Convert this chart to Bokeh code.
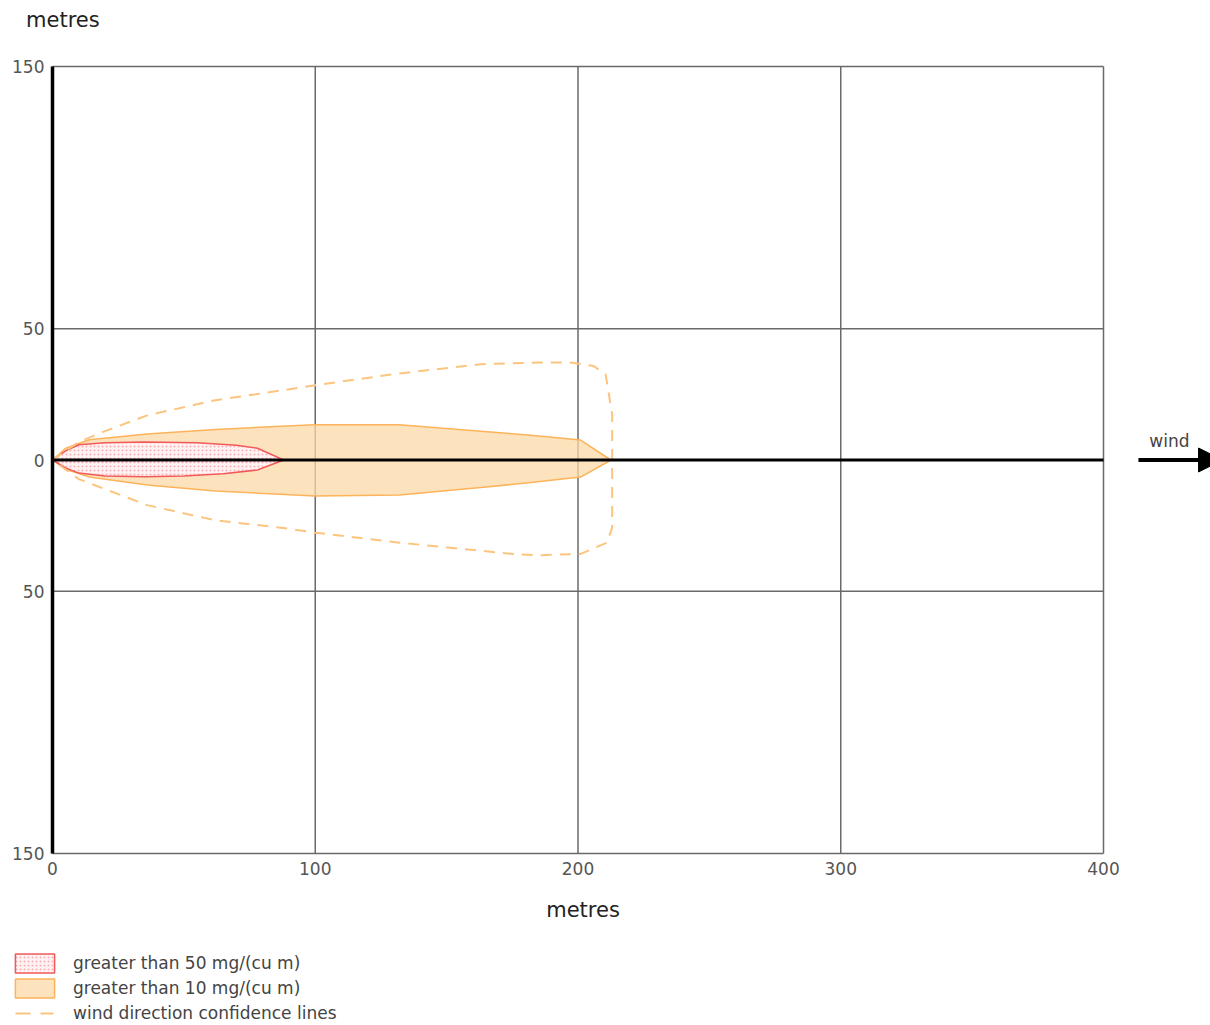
from bokeh.plotting import figure
from bokeh.models import Range1d, FixedTicker, Label, Arrow, NormalHead, Legend, LegendItem
from bokeh.layouts import column
from bokeh.embed import file_html
from bokeh.resources import INLINE

# ---------------- data ----------------
x_ticks = [0, 100, 200, 300, 400]
y_ticks = [150, 50, 0, -50, -150]
y_tick_labels = ["150", "50", "0", "50", "150"]
h_grid = [150, 50, -50, -150]

# zone greater than 50 mg/(cu m)
high_x = [0, 5, 10, 20, 35, 55, 70, 78, 88, 78, 65, 50, 35, 20, 10, 5]
high_y = [0, 3.5, 5.8, 6.6, 6.9, 6.6, 5.6, 4.5, 0, -3.8, -5.2, -6.1, -6.4, -6.1, -5.0, -3.0]

# zone greater than 10 mg/(cu m)
low_x = [0, 5, 14, 36, 62, 87, 100, 132, 163, 182, 201, 212.5, 201, 182, 163, 132, 100, 62, 36, 14, 5]
low_y = [0, 4.5, 7.7, 9.9, 11.6, 12.9, 13.4, 13.4, 11.0, 9.4, 7.6, 0, -6.5, -8.6, -10.5, -13.3, -13.7, -11.8, -9.5, -6.5, -3.5]

# wind direction confidence lines
conf_x = [0, 10, 20, 36, 62, 87, 100, 132, 163, 185, 198, 206, 210.5, 213, 213, 211, 201, 185, 175, 132, 100, 87, 62, 36, 10, 0]
conf_y = [0, 6.9, 11.0, 17.0, 22.8, 26.5, 28.5, 33.0, 36.5, 37.2, 37.1, 35.8, 32.7, 17.5, -25.8, -31.5, -35.8, -36.3, -35.8, -31.5, -27.7, -25.8, -23.0, -17.2, -7.3, 0]

legend_labels = ["greater than 50 mg/(cu m)", "greater than 10 mg/(cu m)", "wind direction confidence lines"]
axis_title = "metres"

FONT = "DejaVu Sans"
W = 1210
OFF = -1500  # strip coordinates are shifted so that the chart's data lie outside their view

# styles
HIGH = dict(fill_color="#fff2f3", line_color="#f05a5a", line_width=1.5,
            hatch_pattern="dot", hatch_color="#f7b0b6", hatch_scale=4, hatch_weight=1)
LOW = dict(fill_color="#fcdaa7", fill_alpha=0.75, line_color="#fdb35a", line_width=1.5)
CONF = dict(line_color="#fcc57f", line_width=2)


def strip(height):
    f = figure(width=W, height=height, output_backend="svg", toolbar_location=None,
               x_range=Range1d(OFF, OFF + W), y_range=Range1d(0, height),
               x_axis_location=None, y_axis_location=None, min_border=0, frame_align=False)
    f.outline_line_color = None
    f.xgrid.visible = False
    f.ygrid.visible = False
    return f


# ---------------- top strip: y axis title ----------------
top = strip(40)
top.add_layout(Label(x=OFF + 62.4, y=21.0, text=axis_title, text_font=FONT, text_font_size="21px",
                     text_color="#222222", text_align="center", text_baseline="alphabetic"))

# ---------------- main chart ----------------
p = figure(width=W, height=845, output_backend="svg", toolbar_location=None,
           x_range=Range1d(-1.522, 440.72), y_range=Range1d(-150.762, 150.762),
           min_border_left=48, min_border_right=0, min_border_top=24, min_border_bottom=30,
           frame_align=False)
p.outline_line_color = None
p.xgrid.visible = False
p.ygrid.visible = False

xa = p.xaxis[0]
xa.ticker = FixedTicker(ticks=x_ticks)
xa.axis_line_color = None
xa.major_tick_line_color = None
xa.minor_tick_line_color = None
xa.major_label_standoff = 0
xa.major_label_text_font = FONT
xa.major_label_text_font_size = "17px"
xa.major_label_text_color = "#555555"

ya = p.yaxis[0]
ya.ticker = FixedTicker(ticks=y_ticks)
ya.major_label_overrides = {t: l for t, l in zip(y_ticks, y_tick_labels)}
ya.axis_line_color = None
ya.major_tick_line_color = None
ya.minor_tick_line_color = None
ya.major_label_standoff = -2
ya.major_label_text_font = FONT
ya.major_label_text_font_size = "17px"
ya.major_label_text_color = "#555555"

grid_col = "#6a6a6a"
p.segment(x0=x_ticks, y0=[-150] * len(x_ticks), x1=x_ticks, y1=[150] * len(x_ticks),
          line_color=grid_col, line_width=1.5)
p.segment(x0=[0] * len(h_grid), y0=h_grid, x1=[400] * len(h_grid), y1=h_grid,
          line_color=grid_col, line_width=1.5)

p.patch(low_x, low_y, **LOW)
p.patch(high_x, high_y, **HIGH)
p.line(conf_x, conf_y, line_dash="11 8", **CONF)

p.segment(x0=[0], y0=[0], x1=[400], y1=[0], line_color="black", line_width=3)
p.segment(x0=[0], y0=[-150], x1=[0], y1=[150], line_color="black", line_width=3.5)

p.add_layout(Arrow(end=NormalHead(size=24, fill_color="black", line_color="black"),
                   x_start=413.3, y_start=0, x_end=445.3, y_end=0,
                   line_color="black", line_width=4))
p.add_layout(Label(x=425.1, y=7.2, text="wind", text_font=FONT, text_font_size="17px",
                   text_color="#444444", text_align="center", text_baseline="middle"))

# ---------------- bottom strip: x axis title and legend ----------------
bot = strip(140)
bot.add_layout(Label(x=OFF + 582.5, y=115.5, text=axis_title, text_font=FONT, text_font_size="21px",
                     text_color="#222222", text_align="center", text_baseline="alphabetic"))
lg_high = bot.patch(high_x, high_y, **HIGH)
lg_low = bot.patch(low_x, low_y, **LOW)
lg_conf = bot.line(conf_x, conf_y, line_dash="0 5 15 10 13 6", **CONF)
legend = Legend(items=[LegendItem(label=legend_labels[0], renderers=[lg_high]),
                       LegendItem(label=legend_labels[1], renderers=[lg_low]),
                       LegendItem(label=legend_labels[2], renderers=[lg_conf])],
                location=(10, 0), orientation="vertical",
                glyph_width=49, glyph_height=24, label_height=24, spacing=1,
                label_standoff=14, padding=0, margin=0,
                border_line_color=None, background_fill_alpha=0,
                label_text_font=FONT, label_text_font_size="17px", label_text_color="#444444")
bot.add_layout(legend, "center")

layout = column(top, p, bot, spacing=0)
open("out.html", "w").write(file_html(layout, INLINE))
